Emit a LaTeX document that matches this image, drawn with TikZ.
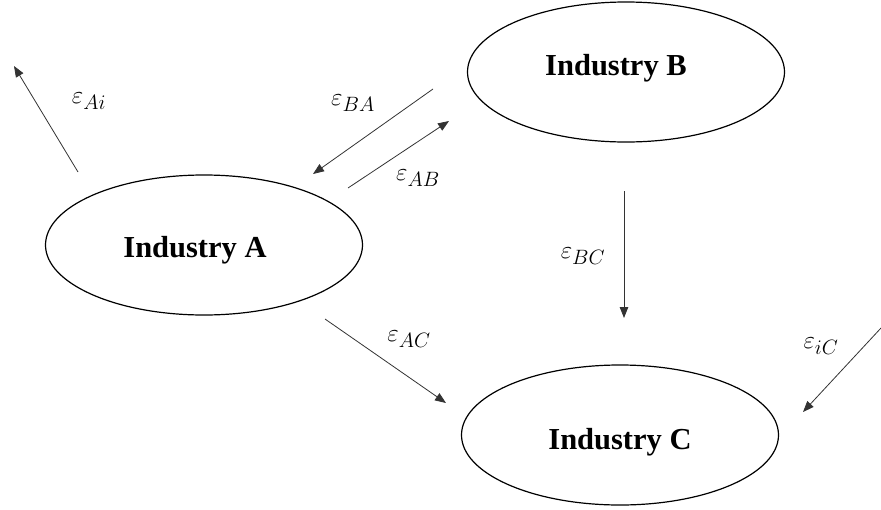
\documentclass[tikz,border=0pt]{standalone}
\usepackage{fontspec}
\setmainfont{Liberation Serif}
\usetikzlibrary{shapes.geometric,arrows.meta}
\tikzset{
  industry/.style={draw, ellipse, line width=1.2pt, minimum width=317pt, minimum height=140pt, inner sep=0pt},
  indtext/.style={anchor=base, font=\bfseries\fontsize{30.5}{34}\selectfont, inner sep=0pt},
  flow/.style={draw=black!80, line width=0.8pt, -{Triangle[length=11pt,width=8.5pt]}},
  elab/.style={font=\fontsize{29}{34}\selectfont, inner sep=0pt}
}
\begin{document}
\begin{tikzpicture}[x=1pt,y=-1pt]
\useasboundingbox (0,0) rectangle (881,509);
% ellipses
\node[industry] (A) at (204,245) {};
\node[industry] (B) at (626,72) {};
\node[industry] (C) at (620,435) {};
\node[indtext] (At) at (195,257) {Industry A};
\node[indtext] (Bt) at (616,75) {Industry B};
\node[indtext] (Ct) at (620,449) {Industry C};
% arrow end points
\coordinate (ai1) at (78,172);  \coordinate (ai2) at (14,66);
\coordinate (ba1) at (433,89);  \coordinate (ba2) at (313,174);
\coordinate (ab1) at (348,188); \coordinate (ab2) at (449,121);
\coordinate (bc1) at (624,191); \coordinate (bc2) at (624,318);
\coordinate (ac1) at (325,319); \coordinate (ac2) at (446,403);
\coordinate (ic1) at (881,328); \coordinate (ic2) at (803,412);
\draw[flow] (ai1) -- (ai2);
\draw[flow] (ba1) -- (ba2);
\draw[flow] (ab1) -- (ab2);
\draw[flow] (bc1) -- (bc2);
\draw[flow] (ac1) -- (ac2);
\draw[flow] (ic1) -- (ic2);
% labels
\node[elab] (lAi) at (89,101) {$\varepsilon_{Ai}$};
\node[elab] (lBA) at (353,103) {$\varepsilon_{BA}$};
\node[elab] (lAB) at (418,178) {$\varepsilon_{AB}$};
\node[elab] (lBC) at (583,256) {$\varepsilon_{BC}$};
\node[elab] (lAC) at (409,339) {$\varepsilon_{AC}$};
\node[elab] (liC) at (821,346) {$\varepsilon_{iC}$};
\end{tikzpicture}
\end{document}
